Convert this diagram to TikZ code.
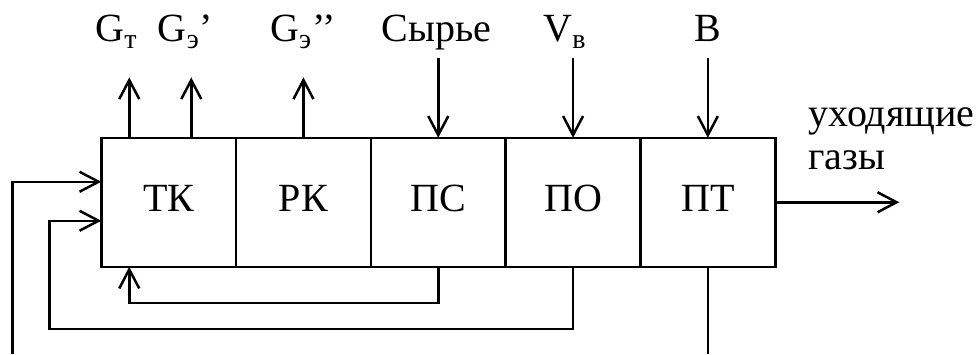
\documentclass[tikz,border=0pt]{standalone}
\usepackage{fontspec}
\setmainfont{Liberation Serif}
\usetikzlibrary{arrows.meta,matrix,positioning,calc}
\tikzset{>={Straight Barb[length=9.5pt,width=10pt]},
         cell/.style={draw,line width=1.25pt,minimum width=67.4pt,
           minimum height=64.5pt,inner sep=0pt,outer sep=0pt,
           text height=14pt,text depth=5pt},
         lbl/.style={anchor=base,inner sep=0pt,text height=14pt,text depth=5pt},
         flow/.style={->,line width=1.25pt}}

\begin{document}
\begin{tikzpicture}[font=\fontsize{20pt}{22.5pt}\selectfont]
  \useasboundingbox (0,0) rectangle (488.5pt,177pt);
  \matrix (m) [matrix of nodes, nodes={cell}, column sep=-1.25pt,
    inner sep=0pt, outer sep=0pt, anchor=south west] at (50pt,43pt)
    { ТК & РК & ПС & ПО & ПТ \\ };
  \node[lbl] (gt) at (58.25pt,156pt) {G\textsubscript{т}};
  \node[lbl] (geA) at (92.75pt,156pt) {G\textsubscript{э}’};
  \node[lbl] (geB) at (151.5pt,156pt) {G\textsubscript{э}’’};
  \node[lbl] (raw) at (218.25pt,156pt) {Сырье};
  \node[lbl] (vv) at (282.5pt,156pt) {V\textsubscript{в}};
  \node[lbl] (bb) at (353.75pt,156pt) {B};
  \node[anchor=base east,align=left,inner sep=0pt,
    font=\fontsize{20pt}{21pt}\selectfont] (gas) at (487.5pt,92.5pt)
    {уходящие\\газы};
  \coordinate (tkA) at ([xshift=14pt]m-1-1.north west);
  \coordinate (tkB) at ([xshift=45pt]m-1-1.north west);
  \coordinate (gasout) at ([xshift=62pt]m-1-5.east);
  \coordinate (cutL) at (6.25pt,0);
  \coordinate (cutR) at (m-1-5.south |- cutL);
  \draw[flow,shorten >=12.5pt] (tkA) -- (tkA |- gt.south);
  \draw[flow,shorten >=12.5pt] (tkB) -- (tkB |- geA.south);
  \draw[flow,shorten >=12.5pt] (m-1-2.north) -- (m-1-2.north |- geB.south);
  \draw[flow,shorten <=3pt] (raw.south -| m-1-3.north) -- (m-1-3.north);
  \draw[flow,shorten <=3pt] (vv.south -| m-1-4.north) -- (m-1-4.north);
  \draw[flow,shorten <=3pt] (bb.south -| m-1-5.north) -- (m-1-5.north);
  \draw[flow] (m-1-5.east) -- (gasout);
  \draw[line width=1.25pt] (m-1-5.south) -- (cutR);
  \draw[flow] (cutL) |- ([yshift=10.25pt]m-1-1.west);
  \draw[flow] (m-1-4.south) |- ([shift={(-26pt,-31pt)}]m-1-1.south west)
    |- ([yshift=-9.25pt]m-1-1.west);
  \draw[flow] (m-1-3.south) -- ++(0,-18pt) -| ([xshift=14pt]m-1-1.south west);
\end{tikzpicture}
\end{document}
